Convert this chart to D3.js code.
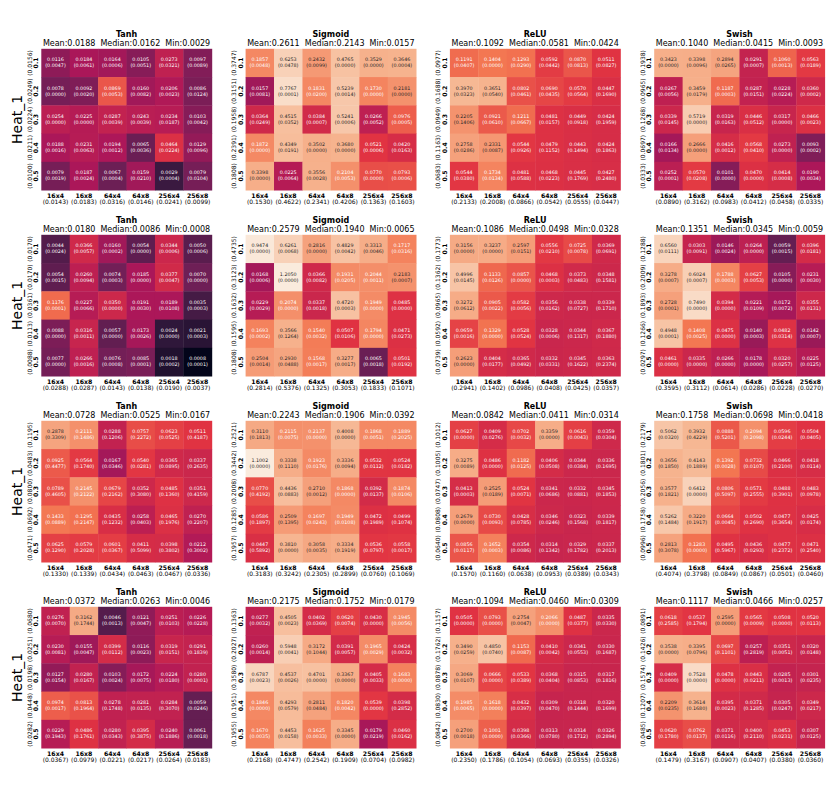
<!DOCTYPE html>
<html><head><meta charset="utf-8">
<script src="https://cdn.jsdelivr.net/npm/d3@7"></script>
<style>body{margin:0;background:#fff}svg{display:block;font-family:"DejaVu Sans",sans-serif}</style>
</head><body>
<script>
const cols = ["16x4","16x8","64x4","64x8","256x4","256x8"];
const rows = ["0.1","0.2","0.3","0.4","0.5"];
const activations = ["Tanh","Sigmoid","ReLU","Swish"];
const yLabel = "Heat_1";

// ---------- figure row 1 ----------
const tanh1_val = [[0.0116,0.0184,0.0164,0.0105,0.0273,0.0097],[0.0078,0.0092,0.0869,0.0160,0.0206,0.0086],[0.0254,0.0225,0.0287,0.0243,0.0234,0.0103],[0.0188,0.0231,0.0194,0.0065,0.0464,0.0129],[0.0079,0.0187,0.0067,0.0159,0.0029,0.0079]];
const tanh1_std = [[0.0047,0.0061,0.0006,0.0051,0.0321,0.0089],[0.0000,0.0020,0.0053,0.0082,0.0023,0.0124],[0.0000,0.0000,0.0039,0.0039,0.0187,0.0042],[0.0016,0.0063,0.0012,0.0036,0.0224,0.0096],[0.0019,0.0024,0.0004,0.0210,0.0004,0.0104]];
const tanh1_rowStd = [0.0156,0.0249,0.0224,0.0211,0.0100];
const tanh1_colStd = [0.0143,0.0183,0.0316,0.0146,0.0241,0.0099];
const tanh1_stats = [0.0188,0.0162,0.0029];

const sigm1_val = [[0.1857,0.6253,0.2432,0.4765,0.3529,0.3646],[0.0157,0.7767,0.1831,0.5239,0.1730,0.2181],[0.0364,0.4515,0.0384,0.5241,0.0266,0.0976],[0.1872,0.4349,0.3502,0.3680,0.0521,0.0420],[0.3398,0.0225,0.3556,0.2104,0.0770,0.0793]];
const sigm1_std = [[0.0048,0.0478,0.0099,0.0000,0.0000,0.0004],[0.0081,0.0001,0.0200,0.0014,0.0000,0.0000],[0.0249,0.0352,0.0007,0.0006,0.0052,0.0005],[0.0000,0.0191,0.0000,0.0000,0.0006,0.0163],[0.0000,0.0064,0.0028,0.0053,0.0000,0.0006]];
const sigm1_rowStd = [0.3747,0.3151,0.1958,0.2391,0.1808];
const sigm1_colStd = [0.1530,0.4622,0.2341,0.4206,0.1363,0.1603];
const sigm1_stats = [0.2611,0.2143,0.0157];

const relu1_val = [[0.1191,0.1404,0.1293,0.0592,0.0870,0.0511],[0.3970,0.3651,0.0802,0.0690,0.0570,0.0447],[0.2205,0.0921,0.1211,0.0481,0.0449,0.0424],[0.2758,0.2331,0.0544,0.0479,0.0443,0.0424],[0.0544,0.1734,0.0481,0.0468,0.0445,0.0427]];
const relu1_std = [[0.0407,0.0000,0.0290,0.0442,0.0813,0.0827],[0.0323,0.0540,0.0461,0.0435,0.0564,0.1690],[0.1406,0.0610,0.0667,0.0157,0.0918,0.1959],[0.0286,0.0087,0.0926,0.1152,0.1494,0.1863],[0.0380,0.0134,0.0588,0.0223,0.1769,0.2480]];
const relu1_rowStd = [0.0977,0.1688,0.0949,0.1163,0.0683];
const relu1_colStd = [0.2133,0.2008,0.0866,0.0542,0.0555,0.0447];
const relu1_stats = [0.1092,0.0581,0.0424];

const swish1_val = [[0.3423,0.3398,0.2894,0.0291,0.1060,0.0563],[0.0267,0.3459,0.1187,0.0287,0.0228,0.0360],[0.0339,0.5719,0.0319,0.0446,0.0317,0.0466],[0.0166,0.2666,0.0416,0.0568,0.0273,0.0093],[0.0252,0.0570,0.0101,0.0470,0.0414,0.0190]];
const swish1_std = [[0.0000,0.0096,0.0265,0.0007,0.0013,0.0189],[0.0056,0.0179,0.0003,0.0151,0.0224,0.0002],[0.0145,0.0000,0.0163,0.0512,0.0000,0.0023],[0.0134,0.0000,0.0012,0.0410,0.0000,0.0002],[0.0001,0.0208,0.0000,0.0000,0.0008,0.0034]];
const swish1_rowStd = [0.1938,0.0965,0.1268,0.0697,0.0333];
const swish1_colStd = [0.0890,0.3162,0.0983,0.0412,0.0458,0.0335];
const swish1_stats = [0.1040,0.0415,0.0093];

// ---------- figure row 2 ----------
const tanh2_val = [[0.0044,0.0366,0.0160,0.0054,0.0344,0.0050],[0.0054,0.0260,0.0074,0.0185,0.0377,0.0070],[0.1176,0.0227,0.0350,0.0191,0.0189,0.0035],[0.0088,0.0316,0.0057,0.0173,0.0024,0.0021],[0.0077,0.0266,0.0076,0.0085,0.0018,0.0008]];
const tanh2_std = [[0.0024,0.0057,0.0002,0.0000,0.0006,0.0006],[0.0015,0.0094,0.0003,0.0000,0.0047,0.0000],[0.0001,0.0066,0.0000,0.0030,0.0108,0.0003],[0.0000,0.0011,0.0000,0.0026,0.0000,0.0003],[0.0000,0.0016,0.0008,0.0001,0.0002,0.0001]];
const tanh2_rowStd = [0.0170,0.0170,0.0361,0.0113,0.0088];
const tanh2_colStd = [0.0288,0.0287,0.0143,0.0138,0.0190,0.0037];
const tanh2_stats = [0.0180,0.0086,0.0008];

const sigm2_val = [[0.9474,0.6261,0.2816,0.4829,0.3313,0.1717],[0.0168,1.2050,0.0366,0.1931,0.2044,0.2183],[0.0229,0.2074,0.0337,0.4720,0.1949,0.0485],[0.1693,0.3566,0.1540,0.0507,0.1794,0.0471],[0.2504,0.2930,0.1568,0.3277,0.0065,0.0501]];
const sigm2_std = [[0.0000,0.0068,0.0000,0.0042,0.0046,0.0316],[0.0006,0.0000,0.0082,0.0205,0.0011,0.0007],[0.0029,0.0000,0.0018,0.0003,0.0000,0.0000],[0.0002,0.1264,0.0032,0.0106,0.0000,0.0273],[0.0014,0.0488,0.0017,0.0017,0.0018,0.0192]];
const sigm2_rowStd = [0.4735,0.3123,0.1632,0.1595,0.1808];
const sigm2_colStd = [0.2814,0.5376,0.1325,0.3053,0.1833,0.1071];
const sigm2_stats = [0.2579,0.1940,0.0065];

const relu2_val = [[0.3156,0.3237,0.2597,0.0556,0.0725,0.0369],[0.4996,0.1133,0.0857,0.0468,0.0373,0.0348],[0.3272,0.0905,0.0582,0.0356,0.0338,0.0339],[0.0659,0.1329,0.0528,0.0328,0.0344,0.0367],[0.2623,0.0404,0.0365,0.0332,0.0345,0.0363]];
const relu2_std = [[0.0000,0.0000,0.0151,0.0210,0.0078,0.0691],[0.0145,0.0126,0.0000,0.0003,0.0483,0.1581],[0.0612,0.0022,0.0056,0.0162,0.0727,0.1710],[0.0016,0.0000,0.0524,0.0006,0.1317,0.1880],[0.0000,0.0177,0.0492,0.0331,0.1622,0.2374]];
const relu2_rowStd = [0.1773,0.1362,0.0965,0.0592,0.0739];
const relu2_colStd = [0.2941,0.1402,0.0986,0.0408,0.0425,0.0357];
const relu2_stats = [0.1086,0.0498,0.0328];

const swish2_val = [[0.6560,0.0303,0.0146,0.0264,0.0059,0.0396],[0.3278,0.6024,0.1788,0.0627,0.0105,0.0231],[0.2728,0.7490,0.0394,0.0221,0.0172,0.0355],[0.4948,0.1408,0.0475,0.0140,0.0482,0.0142],[0.0461,0.0335,0.0266,0.0178,0.0320,0.0225]];
const swish2_std = [[0.0111,0.0091,0.0024,0.0000,0.0015,0.0181],[0.0007,0.0007,0.0003,0.0053,0.0000,0.0030],[0.0001,0.0000,0.0000,0.0109,0.0072,0.0131],[0.0001,0.0025,0.0000,0.0003,0.0314,0.0007],[0.0000,0.0000,0.0000,0.0000,0.0257,0.0125]];
const swish2_rowStd = [0.1288,0.2009,0.1893,0.1266,0.0297];
const swish2_colStd = [0.3595,0.3112,0.0614,0.0286,0.0228,0.0270];
const swish2_stats = [0.1351,0.0345,0.0059];

// ---------- figure row 3 ----------
const tanh3_val = [[0.2878,0.2111,0.0288,0.0757,0.0623,0.0511],[0.0925,0.0564,0.0167,0.0540,0.0365,0.0337],[0.0789,0.2145,0.0679,0.0352,0.0485,0.0351],[0.1433,0.1295,0.0435,0.0258,0.0465,0.0270],[0.0625,0.0579,0.0601,0.0411,0.0398,0.0212]];
const tanh3_std = [[0.3309,0.1486,0.1206,0.2272,0.0525,0.4187],[0.4477,0.1740,0.0346,0.0281,0.0895,0.2635],[0.4605,0.2122,0.2162,0.3080,0.1360,0.4159],[0.0889,0.2147,0.1232,0.0403,0.1976,0.2207],[0.1290,0.2028,0.0367,0.5099,0.3802,0.3002]];
const tanh3_rowStd = [0.1195,0.0483,0.0800,0.0692,0.0471];
const tanh3_colStd = [0.1330,0.1339,0.0434,0.0463,0.0467,0.0336];
const tanh3_stats = [0.0728,0.0525,0.0167];

const sigm3_val = [[0.3110,0.2115,0.2137,0.4008,0.1868,0.1889],[1.1002,0.3338,0.1923,0.3336,0.0532,0.0524],[0.0770,0.4436,0.2710,0.1868,0.0392,0.1874],[0.0586,0.2509,0.1697,0.1949,0.0472,0.0499],[0.0447,0.3810,0.3058,0.3334,0.0536,0.0558]];
const sigm3_std = [[0.1813,0.0075,0.0000,0.0000,0.0051,0.2025],[0.0000,0.1110,0.0176,0.0094,0.0112,0.0182],[0.4192,0.0883,0.0012,0.0000,0.0137,0.0106],[0.1897,0.1395,0.0243,0.0108,0.1989,0.1074],[0.5892,0.0000,0.0035,0.1919,0.0797,0.0017]];
const sigm3_rowStd = [0.2521,0.3442,0.2008,0.1285,0.1957];
const sigm3_colStd = [0.3183,0.3242,0.2305,0.2899,0.0760,0.1069];
const sigm3_stats = [0.2243,0.1906,0.0392];

const relu3_val = [[0.0627,0.0409,0.0702,0.3359,0.0616,0.0359],[0.3275,0.0486,0.1182,0.0406,0.0344,0.0336],[0.0413,0.2525,0.0524,0.0341,0.0332,0.0345],[0.2679,0.0730,0.0428,0.0346,0.0323,0.0339],[0.0856,0.1652,0.0354,0.0314,0.0329,0.0337]];
const relu3_std = [[0.0000,0.0276,0.0032,0.0000,0.0043,0.0304],[0.0089,0.0000,0.0125,0.0508,0.0384,0.1695],[0.0003,0.0189,0.0071,0.0686,0.0881,0.1853],[0.0000,0.0093,0.0785,0.0246,0.1568,0.1817],[0.0117,0.0003,0.0086,0.1342,0.1782,0.2013]];
const relu3_rowStd = [0.1012,0.1005,0.0747,0.0808,0.0640];
const relu3_colStd = [0.1570,0.1160,0.0638,0.0953,0.0389,0.0343];
const relu3_stats = [0.0842,0.0411,0.0314];

const swish3_val = [[0.5062,0.3932,0.0888,0.2094,0.0596,0.0504],[0.3656,0.4143,0.1392,0.0732,0.0466,0.0418],[0.3577,0.6412,0.0806,0.0571,0.0488,0.0483],[0.5262,0.3220,0.0664,0.0502,0.0477,0.0425],[0.2813,0.1283,0.0495,0.0436,0.0477,0.0471]];
const swish3_std = [[0.0320,0.4229,0.5201,0.2098,0.0244,0.0405],[0.1850,0.1889,0.0028,0.0107,0.2100,0.0114],[0.1821,0.0000,0.5097,0.2555,0.3901,0.0978],[0.1484,0.1917,0.0045,0.2690,0.3654,0.0174],[0.3078,0.0000,0.5967,0.0293,0.2372,0.2540]];
const swish3_rowStd = [0.2179,0.1801,0.2056,0.1758,0.0996];
const swish3_colStd = [0.4074,0.3798,0.0849,0.0867,0.0501,0.0460];
const swish3_stats = [0.1758,0.0698,0.0418];

// ---------- figure row 4 ----------
const tanh4_val = [[0.0276,0.3162,0.0046,0.0121,0.0251,0.0226],[0.0230,0.0155,0.0399,0.0116,0.0319,0.0291],[0.0127,0.0280,0.0103,0.0172,0.0224,0.0280],[0.0974,0.0813,0.0278,0.0281,0.0284,0.0059],[0.0229,0.0486,0.0280,0.0395,0.0240,0.0061]];
const tanh4_std = [[0.0070,0.1744,0.0013,0.0047,0.0103,0.0228],[0.0081,0.0047,0.0112,0.0023,0.0151,0.1839],[0.0154,0.0167,0.0024,0.0075,0.0180,0.0001],[0.0017,0.1964,0.1748,0.0135,0.3070,0.0246],[0.1943,0.1761,0.0343,0.3875,0.1886,0.0018]];
const tanh4_rowStd = [0.0680,0.0251,0.0198,0.0448,0.0282];
const tanh4_colStd = [0.0367,0.0979,0.0221,0.0217,0.0264,0.0183];
const tanh4_stats = [0.0372,0.0263,0.0046];

const sigm4_val = [[0.0277,0.4505,0.0402,0.0620,0.0430,0.1945],[0.0260,0.5948,0.3172,0.0391,0.1965,0.0424],[0.6787,0.4537,0.4701,0.3367,0.0405,0.1683],[0.1846,0.4293,0.2811,0.1820,0.0539,0.0398],[0.1670,0.4453,0.1625,0.3345,0.0179,0.0460]];
const sigm4_std = [[0.0032,0.0023,0.0369,0.0074,0.0000,0.0056],[0.0014,0.0041,0.1044,0.0057,0.0029,0.0032],[0.0023,0.0026,0.0000,0.0000,0.0033,0.0000],[0.0000,0.0579,0.0484,0.0042,0.0000,0.2852],[0.0035,0.0158,0.0033,0.0000,0.0219,0.0162]];
const sigm4_rowStd = [0.1363,0.2027,0.3580,0.1951,0.1955];
const sigm4_colStd = [0.2168,0.4747,0.2542,0.1909,0.0704,0.0982];
const sigm4_stats = [0.2175,0.1752,0.0179];

const relu4_val = [[0.0505,0.0793,0.2754,0.2066,0.0487,0.0335],[0.3490,0.4850,0.1153,0.0410,0.0341,0.0330],[0.3069,0.0666,0.0533,0.0368,0.0315,0.0317],[0.1985,0.1618,0.0432,0.0309,0.0318,0.0320],[0.2700,0.1001,0.0398,0.0313,0.0314,0.0326]];
const relu4_std = [[0.0000,0.0000,0.0047,0.0000,0.0377,0.0330],[0.0259,0.0740,0.0087,0.0042,0.0553,0.1687],[0.0107,0.0000,0.0389,0.0404,0.0853,0.1816],[0.0065,0.0000,0.0397,0.0470,0.1444,0.1699],[0.0018,0.0000,0.0366,0.0780,0.1712,0.2894]];
const relu4_rowStd = [0.1157,0.1762,0.0878,0.0830,0.0842];
const relu4_colStd = [0.2350,0.1786,0.1054,0.0693,0.0355,0.0326];
const relu4_stats = [0.1094,0.0460,0.0309];

const swish4_val = [[0.0618,0.0537,0.2595,0.0565,0.0508,0.0520],[0.3538,0.3395,0.0697,0.0257,0.0351,0.0320],[0.0409,0.7528,0.0478,0.0443,0.0285,0.0301],[0.2209,0.3614,0.0395,0.0371,0.0305,0.0349],[0.0620,0.0762,0.0371,0.0400,0.0453,0.0307]];
const swish4_std = [[0.2585,0.1794,0.0000,0.0009,0.0000,0.0113],[0.0000,0.0796,0.1101,0.2819,0.0051,0.0148],[0.0000,0.0000,0.0000,0.0211,0.0013,0.0235],[0.0235,0.1680,0.0023,0.1285,0.0247,0.0217],[0.1780,0.0137,0.0116,0.2110,0.0231,0.0125]];
const swish4_rowStd = [0.0891,0.1426,0.1574,0.1207,0.0485];
const swish4_colStd = [0.1479,0.3167,0.0907,0.0407,0.0380,0.0360];
const swish4_stats = [0.1117,0.0466,0.0257];

// rocket colormap anchors
const rocketStops = ["#03051a","#35193e","#701f57","#ad1759","#e13342","#f37651","#f6b48f","#faebdd"];

// ---------- assemble ----------
const mk = (val,std,rowStd,colStd,stats)=>({val,std,rowStd,colStd,stats});
const panels = [
 [mk(tanh1_val,tanh1_std,tanh1_rowStd,tanh1_colStd,tanh1_stats), mk(sigm1_val,sigm1_std,sigm1_rowStd,sigm1_colStd,sigm1_stats), mk(relu1_val,relu1_std,relu1_rowStd,relu1_colStd,relu1_stats), mk(swish1_val,swish1_std,swish1_rowStd,swish1_colStd,swish1_stats)],
 [mk(tanh2_val,tanh2_std,tanh2_rowStd,tanh2_colStd,tanh2_stats), mk(sigm2_val,sigm2_std,sigm2_rowStd,sigm2_colStd,sigm2_stats), mk(relu2_val,relu2_std,relu2_rowStd,relu2_colStd,relu2_stats), mk(swish2_val,swish2_std,swish2_rowStd,swish2_colStd,swish2_stats)],
 [mk(tanh3_val,tanh3_std,tanh3_rowStd,tanh3_colStd,tanh3_stats), mk(sigm3_val,sigm3_std,sigm3_rowStd,sigm3_colStd,sigm3_stats), mk(relu3_val,relu3_std,relu3_rowStd,relu3_colStd,relu3_stats), mk(swish3_val,swish3_std,swish3_rowStd,swish3_colStd,swish3_stats)],
 [mk(tanh4_val,tanh4_std,tanh4_rowStd,tanh4_colStd,tanh4_stats), mk(sigm4_val,sigm4_std,sigm4_rowStd,sigm4_colStd,sigm4_stats), mk(relu4_val,relu4_std,relu4_rowStd,relu4_colStd,relu4_stats), mk(swish4_val,swish4_std,swish4_rowStd,swish4_colStd,swish4_stats)]
];

const W = 830, H = 799;
const svg = d3.select("body").append("svg").attr("width", W).attr("height", H);

const PW = 170.5, PH = 141.3;
const panelX = d3.scaleBand().domain(d3.range(4)).range([41.3, 41.3 + 3*204.3 + PW]).paddingInner(1 - PW/204.3).paddingOuter(0);
const panelY = d3.scaleBand().domain(d3.range(4)).range([48.8, 48.8 + 3*186 + PH]).paddingInner(1 - PH/186).paddingOuter(0);
const x = d3.scaleBand().domain(cols).range([0, PW]);
const y = d3.scaleBand().domain(rows).range([0, PH]);

const rocket = d3.piecewise(d3.interpolateRgb, rocketStops);
const norm = d3.scaleLog().domain([0.001, 1]).range([0, 1]).clamp(true);
const colorOf = v => rocket(norm(Math.max(v, 1e-6)));
function lum(c){
  const r = d3.rgb(c);
  const f = u => { u /= 255; return u <= 0.03928 ? u/12.92 : Math.pow((u+0.055)/1.055, 2.4); };
  return 0.2126*f(r.r) + 0.7152*f(r.g) + 0.0722*f(r.b);
}
const fmt = d3.format(".4f");

panels.forEach((prow, ri) => {
  prow.forEach((p, ci) => {
    const g = svg.append("g").attr("transform", `translate(${panelX(ci)},${panelY(ri)})`);
    // cells
    const cells = [];
    p.val.forEach((r, i) => r.forEach((v, j) => cells.push({row: rows[i], col: cols[j], v, s: p.std[i][j]})));
    const cg = g.selectAll("g.cell").data(cells).join("g").attr("class","cell")
      .attr("transform", d => `translate(${x(d.col)},${y(d.row)})`);
    cg.append("rect").attr("width", x.bandwidth()+0.4).attr("height", y.bandwidth()+0.4)
      .attr("fill", d => colorOf(d.v));
    cg.append("text").attr("x", x.bandwidth()/2).attr("y", y.bandwidth()/2 - 3)
      .attr("text-anchor","middle").attr("dominant-baseline","central")
      .attr("font-size", 4.8).attr("fill", d => lum(colorOf(d.v)) > 0.408 ? "#262626" : "#ffffff")
      .text(d => fmt(d.v));
    cg.append("text").attr("x", x.bandwidth()/2).attr("y", y.bandwidth()/2 + 3)
      .attr("text-anchor","middle").attr("dominant-baseline","central")
      .attr("font-size", 4.8).attr("fill", d => lum(colorOf(d.v)) > 0.408 ? "#262626" : "#ffffff")
      .text(d => `(${fmt(d.s)})`);
    // x ticks
    cols.forEach((c, j) => {
      const cx = x(c) + x.bandwidth()/2;
      g.append("text").attr("x", cx).attr("y", PH + 5.2).attr("text-anchor","middle")
        .attr("dominant-baseline","central").attr("font-size", 6.2).attr("font-weight","bold").text(c);
      g.append("text").attr("x", cx).attr("y", PH + 11.8).attr("text-anchor","middle")
        .attr("dominant-baseline","central").attr("font-size", 6).text(`(${fmt(p.colStd[j])})`);
    });
    // y ticks (rotated)
    rows.forEach((r, i) => {
      const cy = y(r) + y.bandwidth()/2;
      g.append("text").attr("transform", `translate(-5.6,${cy}) rotate(-90)`).attr("text-anchor","middle")
        .attr("dominant-baseline","central").attr("font-size", 6.2).attr("font-weight","bold").text(r);
      g.append("text").attr("transform", `translate(-12,${cy}) rotate(-90)`).attr("text-anchor","middle")
        .attr("dominant-baseline","central").attr("font-size", 6).text(`(${fmt(p.rowStd[i])})`);
    });
    // titles
    g.append("text").attr("x", PW/2).attr("y", -14.6).attr("text-anchor","middle")
      .attr("dominant-baseline","central").attr("font-size", 8).attr("font-weight","bold").text(activations[ci]);
    g.append("text").attr("x", PW/2).attr("y", -4.9).attr("text-anchor","middle")
      .attr("dominant-baseline","central").attr("font-size", 8).style("white-space","pre")
      .text(`Mean:${fmt(p.stats[0])}  Median:${fmt(p.stats[1])}  Min:${fmt(p.stats[2])}`);
    if (ci === 0) {
      g.append("text").attr("transform", `translate(-19.6,${PH/2}) rotate(-90)`).attr("text-anchor","middle")
        .attr("font-size", 14).text(yLabel);
    }
  });
});
</script>
</body></html>
